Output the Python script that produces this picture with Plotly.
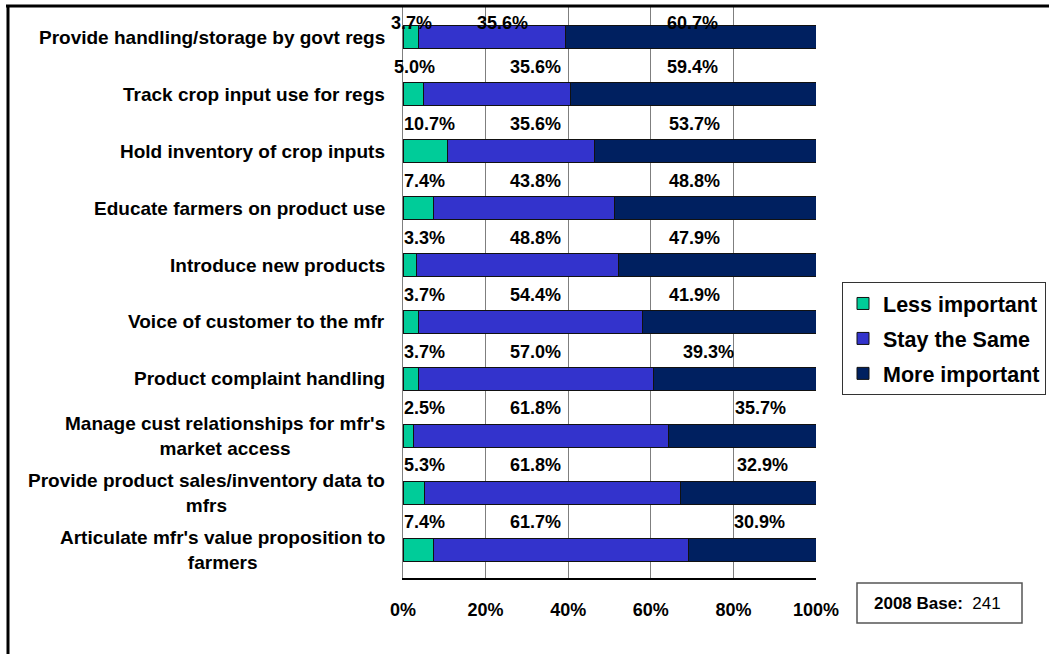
import plotly.graph_objects as go

# Survey items, listed top to bottom
categories = [
    "Provide handling/storage by govt regs",
    "Track crop input use for regs",
    "Hold inventory of crop inputs",
    "Educate farmers on product use",
    "Introduce new products",
    "Voice of customer to the mfr",
    "Product complaint handling",
    "Manage cust relationships for mfr's<br>market access",
    "Provide product sales/inventory data to<br>mfrs",
    "Articulate mfr's value proposition to<br>farmers",
]

# Share of respondents (%)
less_important = [3.7, 5.0, 10.7, 7.4, 3.3, 3.7, 3.7, 2.5, 5.3, 7.4]
stay_same = [35.6, 35.6, 35.6, 43.8, 48.8, 54.4, 57.0, 61.8, 61.8, 61.7]
more_important = [60.7, 59.4, 53.7, 48.8, 47.9, 41.9, 39.3, 35.7, 32.9, 30.9]

tick_values = [0, 20, 40, 60, 80, 100]
tick_labels = ["0%", "20%", "40%", "60%", "80%", "100%"]

base_year = "2008"
base_count = 241

# Where each value label sits along the x axis (in % units)
less_label_x = [2.1, 2.7, 6.3, 5.2, 5.1, 5.1, 5.1, 5.1, 5.3, 5.3]
stay_label_x = [24.1, 32.0, 32.0, 32.0, 32.0, 32.0, 32.0, 32.0, 32.0, 32.0]
more_label_x = [70.2, 70.2, 70.5, 70.5, 70.5, 70.5, 73.9, 86.5, 87.0, 86.2]
label_lift = [14, 27, 27, 27, 27, 27, 27, 28, 28, 28]

FONT = "Liberation Sans, Arial, sans-serif"
GREEN = "#00CC99"
BLUE = "#3333CC"
NAVY = "#002060"

# Plot-area geometry in pixels
W, H = 1049, 654
PL, PR, PT, PB = 403, 816, 6, 578


def px_x(px):
    return (px - PL) / (PR - PL)


def px_y(py):
    return (PB - py) / (PB - PT)


fig = go.Figure()
for name, vals, color in [
    ("Less important", less_important, GREEN),
    ("Stay the Same", stay_same, BLUE),
    ("More important", more_important, NAVY),
]:
    fig.add_trace(go.Bar(
        name=name, legendgroup=name, y=categories, x=vals, orientation="h",
        marker=dict(color=color, line=dict(color="#111111", width=1)),
        hoverinfo="x+y",
    ))

annotations = []
# value labels above each bar
for i, cat in enumerate(categories):
    for vals, xs in [(less_important, less_label_x),
                     (stay_same, stay_label_x),
                     (more_important, more_label_x)]:
        annotations.append(dict(
            x=xs[i], y=cat, xref="x", yref="y", yshift=label_lift[i],
            text=f"<b>{vals[i]:.1f}%</b>", showarrow=False,
            font=dict(family=FONT, size=18, color="black"),
            xanchor="center", yanchor="middle",
        ))
# category labels, centred lines, right edge near the axis
for cat in categories:
    annotations.append(dict(
        x=0, y=cat, xref="paper", yref="y", xshift=-16,
        text=f"<b>{cat}</b>", showarrow=False, align="center",
        font=dict(family=FONT, size=19, color="black"),
        xanchor="right", yanchor="middle",
    ))
# sample base note
annotations.append(dict(
    x=px_x(872), y=px_y(603), xref="paper", yref="paper",
    text=f"<b>{base_year} Base:</b>  {base_count}", showarrow=False,
    font=dict(family=FONT, size=17, color="black"),
    xanchor="left", yanchor="middle",
))

shapes = [
    # chart frame: top and left edges
    dict(type="line", xref="paper", yref="paper",
         x0=px_x(6), x1=px_x(W + 5), y0=px_y(6), y1=px_y(6),
         line=dict(color="black", width=3)),
    dict(type="line", xref="paper", yref="paper",
         x0=px_x(8), x1=px_x(8), y0=px_y(5), y1=px_y(H + 5),
         line=dict(color="black", width=3)),
    # box around base note
    dict(type="rect", xref="paper", yref="paper",
         x0=px_x(857), x1=px_x(1022), y0=px_y(583), y1=px_y(623),
         line=dict(color="#555555", width=1.5), fillcolor="white"),
]

fig.update_layout(
    width=W, height=H,
    margin=dict(l=PL, r=W - PR, t=PT, b=H - PB, pad=0, autoexpand=False),
    barmode="stack", bargap=0.596,
    plot_bgcolor="white", paper_bgcolor="white",
    font=dict(family=FONT, color="black"),
    showlegend=True,
    legend=dict(
        x=842 / W, y=1 - 282 / H, xref="container", yref="container",
        xanchor="left", yanchor="top",
        bgcolor="white", bordercolor="#333333", borderwidth=1,
        font=dict(family=FONT, size=21.5, color="black", weight="bold"),
        traceorder="grouped", itemwidth=30, tracegroupgap=4,
    ),
    xaxis=dict(
        range=[0, 100], tickvals=tick_values, ticktext=tick_labels,
        showgrid=True, gridcolor="#7f7f7f", gridwidth=1,
        zeroline=False, showline=True, linecolor="black", linewidth=2,
        ticks="", ticklabelstandoff=14,
        tickfont=dict(family=FONT, size=18, color="black", weight="bold"),
        fixedrange=True,
    ),
    yaxis=dict(
        type="category", categoryorder="array", categoryarray=categories,
        range=[9.5, -0.553], showticklabels=False, showgrid=False,
        showline=True, linecolor="#7f7f7f", linewidth=1, ticks="",
        zeroline=False, fixedrange=True,
    ),
    annotations=annotations,
    shapes=shapes,
)

fig.write_html("out.html")
